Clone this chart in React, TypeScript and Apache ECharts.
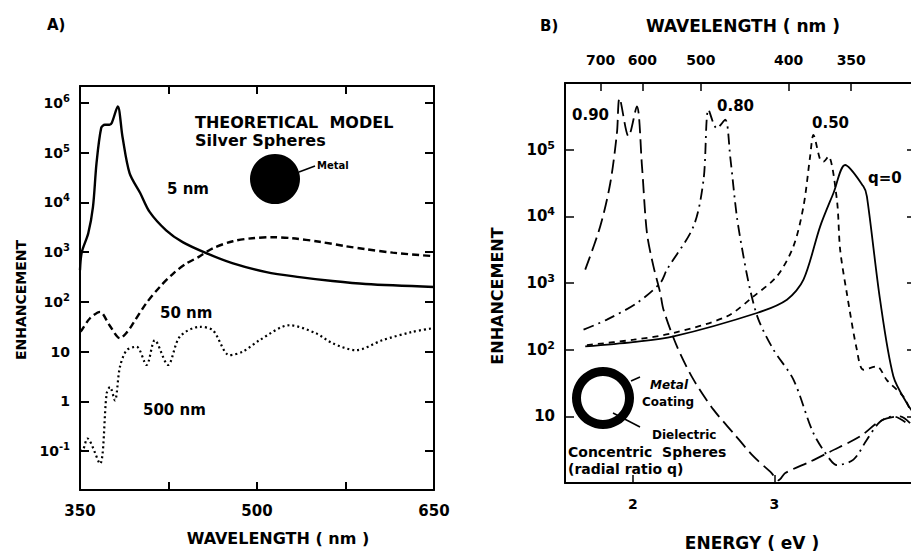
import React, { useEffect, useRef } from "react";
import * as echarts from "echarts";

const FONT = '"DejaVu Sans", "Liberation Sans", Arial, sans-serif';

// ---------- Panel A : silver spheres, wavelength (nm) ----------
const aXTicks = [425, 500, 575];
const aXLabels = [350, 500, 650];

const a5Wl = [350, 351.5, 357, 361, 364, 368, 371, 375, 377, 382, 386, 392, 401, 409, 423, 437, 457, 479, 508, 536, 564, 592, 650];
const a5En = [436, 1000, 2400, 8100, 61700, 316000, 363000, 363000, 400000, 850000, 209000, 38900, 15500, 6460, 2750, 1590, 955, 603, 398, 316, 263, 229, 200];

const a50Wl = [350, 351.4, 358.5, 367, 375, 384, 390, 395, 406, 417.6, 429, 440, 451, 462.6, 479.6, 496, 513, 530, 553, 575, 592, 615, 650];
const a50En = [25, 27, 47, 63, 34, 18.6, 25, 37, 93, 200, 372, 589, 813, 1200, 1660, 1905, 2000, 1905, 1620, 1320, 1150, 977, 830];

const a500Wl = [350, 352.8, 356.2, 366.9, 372.6, 375.4, 379.6, 383.8, 389.5, 397.9, 406.4, 413.4, 424.6, 434.5, 451.4, 462.6, 476.8, 488, 502.1, 527.5, 550, 564, 583.8, 606.3, 631.6, 648.5];
const a500En = [0.1, 0.11, 0.18, 0.056, 1.45, 1.95, 1.05, 4.9, 10.7, 12.6, 5.4, 17, 5.4, 20, 31.6, 27, 8.5, 10, 17, 34, 23.4, 14.8, 10.7, 17, 25, 29.5];

// ---------- Panel B : concentric spheres, energy (eV) ----------
const bEnergyTicks = [2, 3, 4];
const bWavelengthTicks = [700, 600, 500, 400, 350];
const HC = 1239.84; // eV*nm

const bQ0E = [1.663, 2.0, 2.287, 2.876, 3.088, 3.205, 3.323, 3.417, 3.499, 3.628, 3.653, 3.746, 3.84, 3.935, 4.0];
const bQ0V = [112, 130, 158, 355, 562, 1122, 7080, 22400, 58900, 28200, 20000, 562, 40, 15.8, 10];

const bQ50E = [1.675, 2.005, 2.287, 2.664, 2.852, 3.017, 3.134, 3.205, 3.252, 3.275, 3.323, 3.346, 3.381, 3.441, 3.464, 3.511, 3.582, 3.628, 3.723, 3.794, 3.909, 3.958];
const bQ50V = [117, 141, 178, 316, 631, 1259, 3548, 14125, 79400, 166000, 70800, 66100, 79400, 17800, 3162, 708, 100, 50, 56, 35, 20, 12.6];

const bQ80E = [1.651, 1.816, 2.028, 2.193, 2.24, 2.428, 2.499, 2.534, 2.593, 2.652, 2.687, 2.734, 2.781, 2.828, 2.887, 2.993, 3.134, 3.275, 3.393, 3.441, 3.558, 3.653, 3.746, 3.84, 3.935];
const bQ80V = [200, 282, 501, 1000, 1585, 7080, 35500, 398000, 209000, 282000, 79400, 10000, 2512, 794, 282, 100, 35.5, 5.6, 2.24, 1.86, 2.24, 4.47, 8.3, 10, 7.9];

const bQ90E = [1.663, 1.769, 1.84, 1.887, 1.905, 1.969, 2.028, 2.064, 2.099, 2.145, 2.193, 2.216, 2.311, 2.428, 2.569, 2.71, 2.852, 2.97, 3.03, 3.076, 3.252, 3.393, 3.605, 3.723, 3.794, 3.888, 3.958];
const bQ90V = [1585, 7080, 31600, 178000, 589000, 158000, 447000, 56200, 5620, 1778, 708, 398, 112, 35.5, 12.6, 5.6, 2.5, 1.48, 1.1, 1.41, 2.09, 2.95, 5.0, 7.9, 9.3, 10, 7.9];

const zip = (xs: number[], ys: number[]) => xs.map((x, i) => [x, ys[i]]);

const supLabel = (hide: number[]) => (v: number) => {
  const l = Math.log10(v);
  const e = Math.round(l);
  if (Math.abs(l - e) > 0.01) return "";
  if (hide.includes(e)) return "";
  if (e === 0) return "{b|1}";
  if (e === 1) return "{b|10}";
  return "{b|10}{s|" + e + "}";
};

export default function App() {
  const ref = useRef<HTMLDivElement>(null);
  useEffect(() => {
    if (!ref.current) return;
    const chart = echarts.init(ref.current, undefined, { renderer: "svg" });
    const black = "#000";
    const axisLine = { show: true, onZero: false, lineStyle: { color: black, width: 2 } };
    const rich = (size: number) => ({
      b: { fontSize: size, fontWeight: "bold", fontFamily: FONT, color: black },
      s: { fontSize: size - 4, fontWeight: "bold", fontFamily: FONT, color: black, padding: [0, 0, 9, 0] },
    });
    const lineSeries = (name: string, data: number[][], xi: number, yi: number, type: any, width = 2) => ({
      name,
      type: "line",
      xAxisIndex: xi,
      yAxisIndex: yi,
      data,
      showSymbol: false,
      smooth: 0.3,
      clip: true,
      lineStyle: { color: black, width, type },
    });

    const option: any = {
      animation: false,
      backgroundColor: "#fff",
      grid: [
        { left: 80, top: 86, width: 354, height: 404, outerBoundsMode: "none", containLabel: false },
        { left: 565, top: 83, width: 351, height: 400, outerBoundsMode: "none", containLabel: false },
      ],
      xAxis: [
        {
          gridIndex: 0, type: "value", min: 350, max: 650, position: "bottom",
          axisLine, splitLine: { show: false },
          axisTick: { inside: true, length: 8, customValues: aXTicks, lineStyle: { color: black, width: 2 } },
          axisLabel: { customValues: aXLabels, margin: 13, fontSize: 15, fontWeight: "bold", fontFamily: FONT, color: black },
        },
        {
          gridIndex: 0, type: "value", min: 350, max: 650, position: "top",
          axisLine, splitLine: { show: false },
          axisTick: { inside: true, length: 8, customValues: aXTicks, lineStyle: { color: black, width: 2 } },
          axisLabel: { show: false },
        },
        {
          gridIndex: 1, type: "value", min: 1.52, max: 4.0, position: "bottom",
          axisLine, splitLine: { show: false },
          axisTick: { inside: true, length: 8, customValues: bEnergyTicks, lineStyle: { color: black, width: 1.5 } },
          axisLabel: { customValues: bEnergyTicks, margin: 14, fontSize: 14, fontWeight: "bold", fontFamily: FONT, color: black },
        },
        {
          gridIndex: 1, type: "value", min: 1.52, max: 4.0, position: "top",
          axisLine, splitLine: { show: false },
          axisTick: { inside: true, length: 8, customValues: bWavelengthTicks.map((w) => HC / w), lineStyle: { color: black, width: 1.5 } },
          axisLabel: {
            customValues: bWavelengthTicks.map((w) => HC / w),
            formatter: (v: number) => String(Math.round(HC / v)),
            margin: 16, fontSize: 14, fontWeight: "bold", fontFamily: FONT, color: black,
          },
        },
      ],
      yAxis: [
        {
          gridIndex: 0, type: "log", logBase: 10, min: Math.pow(10, -1.78), max: Math.pow(10, 6.34), position: "left",
          axisLine, splitLine: { show: false }, minorTick: { show: false },
          axisTick: { inside: true, length: 9, lineStyle: { color: black, width: 2 } },
          axisLabel: { formatter: supLabel([]), margin: 10, rich: rich(14) },
        },
        {
          gridIndex: 0, type: "log", logBase: 10, min: Math.pow(10, -1.78), max: Math.pow(10, 6.34), position: "right",
          axisLine, splitLine: { show: false },
          axisTick: { inside: true, length: 9, lineStyle: { color: black, width: 2 } },
          axisLabel: { show: false },
        },
        {
          gridIndex: 1, type: "log", logBase: 10, min: 1, max: 1e6, position: "left",
          axisLine, splitLine: { show: false },
          axisTick: { inside: true, length: 9, lineStyle: { color: black, width: 1.5 } },
          axisLabel: { formatter: supLabel([0, 6]), margin: 10, rich: rich(15) },
        },
        {
          gridIndex: 1, type: "log", logBase: 10, min: 1, max: 1e6, position: "right",
          axisLine, splitLine: { show: false },
          axisTick: { inside: true, length: 9, lineStyle: { color: black, width: 1.5 } },
          axisLabel: { show: false },
        },
      ],
      series: [
        lineSeries("5 nm", zip(a5Wl, a5En), 0, 0, "solid", 2.4),
        lineSeries("50 nm", zip(a50Wl, a50En), 0, 0, [7, 4], 2.4),
        lineSeries("500 nm", zip(a500Wl, a500En), 0, 0, [2, 3], 2.2),
        lineSeries("q=0", zip(bQ0E, bQ0V), 2, 2, "solid", 1.8),
        lineSeries("0.50", zip(bQ50E, bQ50V), 2, 2, [6, 5], 1.8),
        lineSeries("0.80", zip(bQ80E, bQ80V), 2, 2, [11, 5, 2, 5], 1.8),
        lineSeries("0.90", zip(bQ90E, bQ90V), 2, 2, [14, 6], 1.8),
      ],
      graphic: [
        { type: "text", x: 47, y: 25, style: { text: "A)", font: `bold 15px ${FONT}`, fill: black, verticalAlign: "middle" } },
        { type: "text", x: 540, y: 26, style: { text: "B)", font: `bold 15px ${FONT}`, fill: black, verticalAlign: "middle" } },
        { type: "text", x: 278, y: 538, style: { text: "WAVELENGTH ( nm )", font: `bold 16px ${FONT}`, fill: black, align: "center", verticalAlign: "middle" } },
        { type: "text", x: 743, y: 26, style: { text: "WAVELENGTH ( nm )", font: `bold 17px ${FONT}`, fill: black, align: "center", verticalAlign: "middle" } },
        { type: "text", x: 752, y: 543, style: { text: "ENERGY ( eV )", font: `bold 17px ${FONT}`, fill: black, align: "center", verticalAlign: "middle" } },
        { type: "text", x: 21, y: 300, rotation: Math.PI / 2, style: { text: "ENHANCEMENT", font: `bold 14px ${FONT}`, fill: black, align: "center", verticalAlign: "middle" } },
        { type: "text", x: 497, y: 296, rotation: Math.PI / 2, style: { text: "ENHANCEMENT", font: `bold 16px ${FONT}`, fill: black, align: "center", verticalAlign: "middle" } },
        { type: "text", x: 195, y: 122, style: { text: "THEORETICAL  MODEL", font: `bold 16px ${FONT}`, fill: black, verticalAlign: "middle" } },
        { type: "text", x: 195, y: 140, style: { text: "Silver Spheres", font: `bold 16px ${FONT}`, fill: black, verticalAlign: "middle" } },
        { type: "circle", shape: { cx: 275, cy: 179, r: 25 }, style: { fill: black } },
        { type: "line", shape: { x1: 299, y1: 172, x2: 315, y2: 166 }, style: { stroke: black, lineWidth: 1.5 } },
        { type: "text", x: 317, y: 165, style: { text: "Metal", font: `bold 10px ${FONT}`, fill: black, verticalAlign: "middle" } },
        { type: "text", x: 167, y: 189, style: { text: "5 nm", font: `bold 15px ${FONT}`, fill: black, verticalAlign: "middle" } },
        { type: "text", x: 160, y: 313, style: { text: "50 nm", font: `bold 15px ${FONT}`, fill: black, verticalAlign: "middle" } },
        { type: "text", x: 143, y: 410, style: { text: "500 nm", font: `bold 15px ${FONT}`, fill: black, verticalAlign: "middle" } },
        { type: "text", x: 572, y: 115, style: { text: "0.90", font: `bold 15px ${FONT}`, fill: black, verticalAlign: "middle" } },
        { type: "text", x: 717, y: 106, style: { text: "0.80", font: `bold 15px ${FONT}`, fill: black, verticalAlign: "middle" } },
        { type: "text", x: 812, y: 123, style: { text: "0.50", font: `bold 15px ${FONT}`, fill: black, verticalAlign: "middle" } },
        { type: "text", x: 868, y: 178, style: { text: "q=0", font: `bold 15px ${FONT}`, fill: black, verticalAlign: "middle" } },
        { type: "ring", shape: { cx: 603, cy: 398, r: 31, r0: 22 }, style: { fill: black } },
        { type: "line", shape: { x1: 631, y1: 381, x2: 640, y2: 377 }, style: { stroke: black, lineWidth: 1.5 } },
        { type: "text", x: 650, y: 385, style: { text: "Metal", font: `italic bold 12px ${FONT}`, fill: black, verticalAlign: "middle" } },
        { type: "text", x: 642, y: 402, style: { text: "Coating", font: `bold 12px ${FONT}`, fill: black, verticalAlign: "middle" } },
        { type: "line", shape: { x1: 613, y1: 413, x2: 640, y2: 427 }, style: { stroke: black, lineWidth: 1.5 } },
        { type: "text", x: 652, y: 435, style: { text: "Dielectric", font: `bold 12px ${FONT}`, fill: black, verticalAlign: "middle" } },
        { type: "text", x: 568, y: 452, style: { text: "Concentric  Spheres", font: `bold 14px ${FONT}`, fill: black, verticalAlign: "middle" } },
        { type: "text", x: 568, y: 469, style: { text: "(radial ratio q)", font: `bold 14px ${FONT}`, fill: black, verticalAlign: "middle" } },
      ],
    };
    chart.setOption(option);
    return () => chart.dispose();
  }, []);
  return (
    <div
      ref={ref}
      style={{ position: "fixed", left: 0, top: 0, width: 911, height: 552, background: "#fff" }}
    />
  );
}
